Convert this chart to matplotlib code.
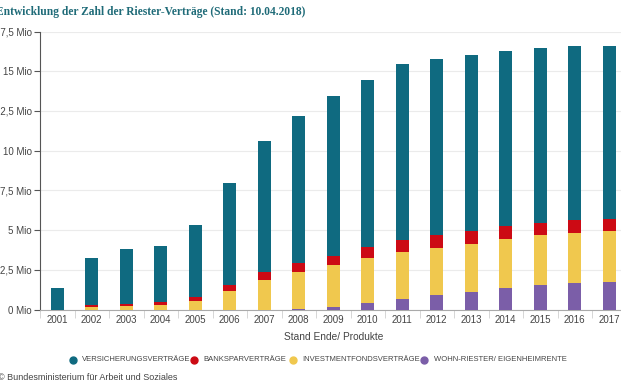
import numpy as np
import matplotlib
matplotlib.use("Agg")
import matplotlib.pyplot as plt
from matplotlib.ticker import FixedLocator

# data (Mio Verträge)
years = ["2001", "2002", "2003", "2004", "2005", "2006", "2007", "2008", "2009",
         "2010", "2011", "2012", "2013", "2014", "2015", "2016", "2017"]
wohn_riester = [0, 0, 0, 0, 0, 0, 0, 0.02, 0.17, 0.38, 0.67, 0.91, 1.08, 1.33, 1.53, 1.65, 1.74]
investmentfonds = [0, 0.15, 0.19, 0.27, 0.53, 1.16, 1.86, 2.33, 2.63, 2.84, 2.97, 2.97, 3.05, 3.08, 3.13, 3.18, 3.22]
banksparen = [0, 0.12, 0.17, 0.21, 0.27, 0.36, 0.51, 0.55, 0.59, 0.70, 0.75, 0.84, 0.80, 0.84, 0.81, 0.78, 0.76]
versicherung = [1.37, 2.99, 3.47, 3.54, 4.50, 6.43, 8.22, 9.30, 10.04, 10.53, 11.06, 11.02, 11.09, 11.04, 11.01, 10.96, 10.89]

series = ["VERSICHERUNGSVERTRÄGE", "BANKSPARVERTRÄGE", "INVESTMENTFONDSVERTRÄGE", "WOHN-RIESTER/ EIGENHEIMRENTE"]
colors = ["#0f6a80", "#cc0a14", "#f0c84e", "#7b5ea8"]
y_ticks = [0, 2.5, 5, 7.5, 10, 12.5, 15, 17.5]
y_labels = ["0 Mio", "2,5 Mio", "5 Mio", "7,5 Mio", "10 Mio", "12,5 Mio", "15 Mio", "17,5 Mio"]

plt.rcParams['font.family'] = ['Liberation Sans', 'DejaVu Sans']

W, H = 621, 383
fig = plt.figure(figsize=(W / 100, H / 100), dpi=100)
ax = fig.add_axes([40 / W, (H - 309.5) / H, 586.5 / W, 278 / H])

x = np.arange(len(years))
w = 0.37
# stack from bottom: wohn-riester, fonds, bank, versicherung
bottom = np.zeros(len(years))
for vals, col in [(wohn_riester, colors[3]), (investmentfonds, colors[2]),
                  (banksparen, colors[1]), (versicherung, colors[0])]:
    ax.bar(x, vals, w, bottom=bottom, color=col, zorder=3)
    bottom += np.array(vals)

ax.set_xlim(-0.5, len(years) - 0.5)
ax.set_ylim(0, 17.5)
ax.set_yticks(y_ticks)
ax.set_yticklabels(y_labels, fontsize=7, color="#444444")
ax.set_xticks(x)
ax.set_xticklabels(years, fontsize=7, color="#444444")
ax.xaxis.set_minor_locator(FixedLocator(np.arange(-0.5, len(years), 1)))
ax.tick_params(axis="x", which="major", length=0, pad=4)
ax.tick_params(axis="x", which="minor", length=6, color="#d0d0d0")
ax.tick_params(axis="y", length=4, color="#555555", pad=2)
ax.grid(axis="y", color="#ebebeb", linewidth=0.8, zorder=0)

for s in ["top", "right"]:
    ax.spines[s].set_visible(False)
ax.spines["left"].set_color("#555555")
ax.spines["bottom"].set_color("#aaaaaa")

fig.text(334 / W, 1 - 337 / H, "Stand Ende/ Produkte", ha="center", va="center",
         fontsize=7.3, color="#444444")

# legend, laid out by hand like the original
legend_x = [72.7, 194, 292.7, 424.3]
legend_y = 1 - 359.5 / H
for lx, name, col in zip(legend_x, series, colors):
    fig.lines.append(plt.Line2D([lx / W], [legend_y], marker="o", markersize=5, color=col,
                                linestyle="", transform=fig.transFigure))
    fig.text((lx + 9.5) / W, legend_y, name, ha="left", va="center", fontsize=5.5,
             color="#444444")

fig.text(-0.006, 1 - 12 / H, "Entwicklung der Zahl der Riester-Verträge (Stand: 10.04.2018)",
         ha="left", va="center", fontsize=8.3, fontweight="bold", color="#1f6b78",
         family=["Liberation Serif", "DejaVu Serif"])
fig.text(-0.004, 1 - 378 / H, "© Bundesministerium für Arbeit und Soziales",
         ha="left", va="center", fontsize=6.5, color="#444444")

fig.savefig("out.png", dpi=100)
